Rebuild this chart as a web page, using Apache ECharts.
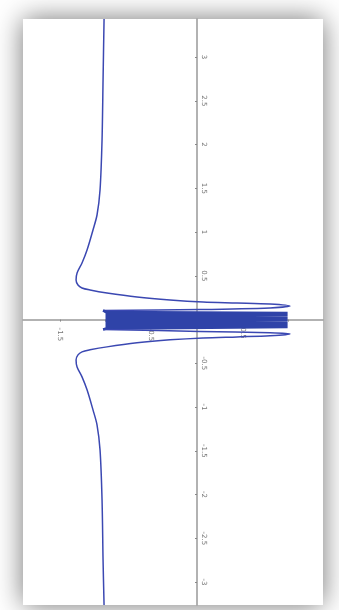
<!DOCTYPE html>
<html>
<head>
<meta charset="utf-8">
<script src="https://cdn.jsdelivr.net/npm/echarts@6/dist/echarts.min.js"></script>
<style>
  html, body { margin: 0; padding: 0; background: #fff; }
  #chart { width: 339px; height: 610px; }
</style>
</head>
<body>
<div id="chart"></div>
<script>
// upper branch
const upperX = [-1.016, -1.027, -1.038, -1.060, -1.093, -1.137, -1.202, -1.257, -1.311, -1.322, -1.301, -1.257, -1.169, -0.984, -0.656, -0.295, 0.066, 0.437, 0.798, 1.016, 0.798, 0.033, -1.027]
const upperY = [3.435, 2.739, 2.053, 1.481, 1.195, 1.024, 0.795, 0.647, 0.533, 0.453, 0.395, 0.361, 0.338, 0.304, 0.258, 0.224, 0.201, 0.190, 0.178, 0.155, 0.133, 0.115, 0.104]

// dense oscillation band around y = 0
const bandX = [-1.027, -1.0, 0.99, -1.0, 0.99, -1.0, 0.99, -1.0, 0.99, -1.0, 0.99, -1.0, 0.99, -1.0, 0.99, -1.0, -1.027]
const bandY = [0.104, 0.087, 0.075, 0.062, 0.048, 0.034, 0.021, 0.007, -0.007, -0.021, -0.034, -0.048, -0.062, -0.075, -0.083, -0.105, -0.113]

// lower branch
const lowerX = [-1.027, 0.033, 0.798, 1.016, 0.798, 0.437, 0.066, -0.295, -0.656, -0.984, -1.169, -1.257, -1.301, -1.322, -1.311, -1.257, -1.202, -1.137, -1.093, -1.060, -1.038, -1.027, -1.016]
const lowerY = [-0.113, -0.135, -0.152, -0.165, -0.186, -0.198, -0.210, -0.232, -0.266, -0.312, -0.346, -0.369, -0.403, -0.461, -0.541, -0.655, -0.803, -1.032, -1.203, -1.489, -2.061, -2.747, -3.262]

const xTicks = [-1.5, -1, -0.5, 0.5, 1]
const xLabels = [-1.5, -0.5, 0.5]  // -1 and 1 sit under the band
const yTicks = [-3, -2.5, -2, -1.5, -1, -0.5, 0.5, 1, 1.5, 2, 2.5, 3]

const lineColor = '#3b48b2'

function pairs(xs, ys) {
  return xs.map((x, i) => [x, ys[i]])
}

const chart = echarts.init(document.getElementById('chart'))

chart.setOption({
  animation: false,
  backgroundColor: '#fff',
  graphic: [{
    type: 'rect',
    z: -10,
    silent: true,
    shape: { x: 23, y: 19, width: 300, height: 586 },
    style: {
      fill: '#fff',
      shadowBlur: 26,
      shadowColor: 'rgba(0,0,0,0.55)'
    }
  }],
  grid: {
    left: 23,
    right: 16,
    top: 19,
    bottom: 5,
    outerBoundsMode: 'none'
  },
  xAxis: {
    type: 'value',
    position: 'bottom',
    offset: -285.4,
    min: -1.902,
    max: 1.377,
    splitLine: { show: false },
    axisLine: { onZero: false, lineStyle: { color: '#999', width: 1.5 } },
    axisTick: { customValues: xTicks, length: 2, lineStyle: { color: '#888' } },
    axisLabel: {
      customValues: xLabels,
      rotate: -90,
      fontSize: 7,
      color: '#777',
      margin: 8,
      fontFamily: 'DejaVu Sans'
    }
  },
  yAxis: {
    type: 'value',
    position: 'left',
    offset: -174,
    min: -3.262,
    max: 3.435,
    splitLine: { show: false },
    axisLine: { onZero: false, lineStyle: { color: '#999', width: 1.5 } },
    axisTick: { customValues: yTicks, length: 2, lineStyle: { color: '#888' } },
    axisLabel: {
      customValues: yTicks,
      inside: true,
      rotate: -90,
      fontSize: 7,
      color: '#777',
      margin: 3,
      fontFamily: 'DejaVu Sans'
    }
  },
  series: [{
    type: 'line',
    data: pairs(upperX, upperY),
    smooth: 0.3,
    showSymbol: false,
    lineStyle: { color: lineColor, width: 1.5 }
  }, {
    type: 'line',
    data: pairs(bandX, bandY),
    showSymbol: false,
    lineStyle: { color: '#2f43a8', width: 2.6 }
  }, {
    type: 'line',
    data: pairs(lowerX, lowerY),
    smooth: 0.3,
    showSymbol: false,
    lineStyle: { color: lineColor, width: 1.5 }
  }]
})
</script>
</body>
</html>
